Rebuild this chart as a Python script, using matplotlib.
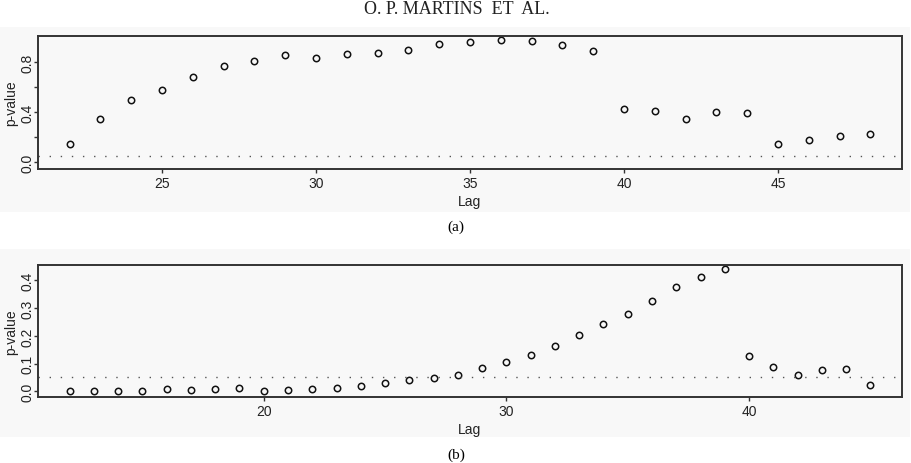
import matplotlib
matplotlib.use('Agg')
import matplotlib.pyplot as plt
from matplotlib.patches import Rectangle

# panel (a)
lag_a = list(range(22, 49))
pval_a = [0.146, 0.346, 0.498, 0.581, 0.685, 0.770, 0.813, 0.856, 0.837,
          0.864, 0.874, 0.901, 0.944, 0.965, 0.978, 0.970, 0.936, 0.890,
          0.426, 0.410, 0.349, 0.400, 0.392, 0.146, 0.181, 0.208, 0.224]
yticks_a = [0.0, 0.2, 0.4, 0.6, 0.8]
yticklabels_a = ['0.0', '', '0.4', '', '0.8']
xticks_a = [25, 30, 35, 40, 45]

# panel (b)
lag_b = list(range(12, 46))
pval_b = [0.000, 0.000, 0.001, 0.002, 0.008, 0.005, 0.008, 0.013, 0.002,
          0.005, 0.007, 0.013, 0.017, 0.029, 0.040, 0.048, 0.059, 0.084,
          0.106, 0.130, 0.165, 0.203, 0.243, 0.278, 0.327, 0.376, 0.411,
          0.442, 0.126, 0.087, 0.060, 0.076, 0.079, 0.024]
yticks_b = [0.0, 0.1, 0.2, 0.3, 0.4]
yticklabels_b = ['0.0', '0.1', '0.2', '0.3', '0.4']
xticks_b = [20, 30, 40]

alpha = 0.05

W, H = 912, 464
fig = plt.figure(figsize=(W / 100, H / 100), dpi=100)
fig.patch.set_facecolor('white')

# faint grey background of the scanned panels, in an axes kept behind everything
bg = fig.add_axes([0, 0, 1, 1], zorder=-10)
bg.set_xlim(0, W)
bg.set_ylim(H, 0)
bg.axis('off')
bg.add_patch(Rectangle((0, 28), 910, 185, facecolor='#f8f8f8', edgecolor='none'))
bg.add_patch(Rectangle((0, 250), 910, 188, facecolor='#f8f8f8', edgecolor='none'))

sans = ['Liberation Sans', 'DejaVu Sans']
serif = ['Liberation Serif', 'DejaVu Serif']


def panel(rect, lag, pval, ylim, yticks, yticklabels, xticks):
  ax = fig.add_axes(rect)
  ax.set_facecolor('none')
  ax.plot(lag, pval, linestyle='none', marker='o', markersize=4.6,
          markerfacecolor='none', markeredgecolor='#111111', markeredgewidth=1.1)
  ax.axhline(alpha, color='#555555', linestyle=(0, (1, 7)), linewidth=1.0)
  span = max(lag) - min(lag)
  ax.set_xlim(min(lag) - 0.04 * span, max(lag) + 0.04 * span)
  ax.set_ylim(*ylim)
  ax.set_xticks(xticks)
  ax.set_xticklabels([str(t) for t in xticks], family=sans, fontsize=10, color='#222222')
  ax.set_yticks(yticks)
  ax.set_yticklabels(yticklabels, family=sans, fontsize=10, color='#222222',
                     rotation=90, va='center')
  ax.tick_params(direction='out', length=3, width=1, color='#333333', pad=2)
  ax.tick_params(axis='y', pad=-1)
  for s in ax.spines.values():
    s.set_color('#333333')
    s.set_linewidth(1.4)
  ax.set_xlabel('Lag', family=sans, fontsize=10, color='#222222', labelpad=3)
  ax.set_ylabel('p-value', family=sans, fontsize=10, color='#222222', labelpad=2)
  return ax


ax_a = panel([37.5 / W, 1 - 170 / H, 865 / W, 133.3 / H], lag_a, pval_a,
             (-0.053, 1.013), yticks_a, yticklabels_a, xticks_a)
ax_b = panel([37.5 / W, 1 - 398 / H, 865 / W, 132 / H], lag_b, pval_b,
             (-0.021, 0.456), yticks_b, yticklabels_b, xticks_b)

fig.text(456 / W, 1 - 227 / H, '(a)', ha='center', va='center', family=serif, fontsize=11)
fig.text(456 / W, 1 - 455 / H, '(b)', ha='center', va='center', family=serif, fontsize=11)
fig.text(457 / W, 1 - 9 / H, 'O. P. MARTINS  ET  AL.', ha='center', va='center',
         family=serif, fontsize=13, color='#222222')

fig.savefig('out.png', dpi=100, facecolor=fig.get_facecolor())
